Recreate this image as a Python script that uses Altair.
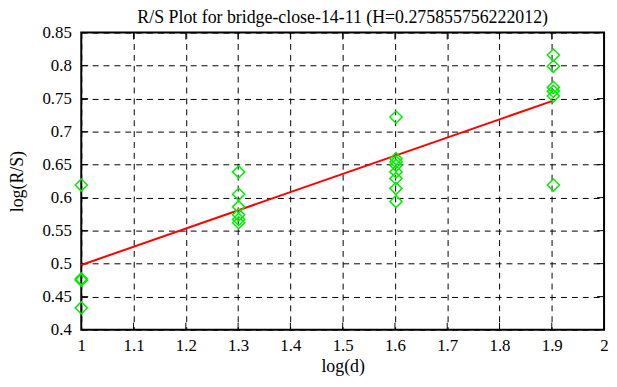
import altair as alt
import pandas as pd

# R/S analysis data (log(d) groups and log(R/S) values)
x_groups = [1.0, 1.30103, 1.60206, 1.90309]
y_at_1 = [0.619, 0.477, 0.475, 0.433]
y_at_2 = [0.639, 0.605, 0.586, 0.574, 0.567, 0.562]
y_at_3 = [0.722, 0.659, 0.654, 0.649, 0.639, 0.629, 0.614, 0.594]
y_at_4 = [0.816, 0.799, 0.767, 0.761, 0.754, 0.619]

fit_x = [1.0, 1.90309]
fit_y = [0.498, 0.747]

x_ticks = [1.0, 1.1, 1.2, 1.3, 1.4, 1.5, 1.6, 1.7, 1.8, 1.9, 2.0]
y_ticks = [0.4, 0.45, 0.5, 0.55, 0.6, 0.65, 0.7, 0.75, 0.8, 0.85]

title_text = "R/S Plot for bridge-close-14-11 (H=0.275855756222012)"

rows = []
for gx, ys in zip(x_groups, [y_at_1, y_at_2, y_at_3, y_at_4]):
    for v in ys:
        rows.append({"x": gx, "y": v})
pts = pd.DataFrame(rows)
fit = pd.DataFrame({"x": fit_x, "y": fit_y})
xt = pd.DataFrame({"x": x_ticks[1:-1]})
yt = pd.DataFrame({"y": y_ticks[1:-1]})

W, H = 528, 300
FONT = "Liberation Serif"

xscale = alt.Scale(domain=[1, 2], nice=False, zero=False)
yscale = alt.Scale(domain=[0.4, 0.85], nice=False, zero=False)

xaxis = alt.Axis(
    values=x_ticks, format=".1~f", title="log(d)", grid=True,
    gridColor="black", gridOpacity=1, gridDash=[6, 5], gridWidth=1,
    ticks=False, domain=False, labelPadding=8, labelFontSize=17,
    labelFont=FONT, labelColor="black", titleFont=FONT, titleFontSize=18,
    titleFontWeight="normal", titleColor="black", titleY=37, titleX=W / 2,
    titleBaseline="middle", labelFlush=False, labelOverlap=False,
)
yaxis = alt.Axis(
    values=y_ticks, format=".2~f", title="log(R/S)", grid=True,
    gridColor="black", gridOpacity=1, gridDash=[6, 5], gridWidth=1,
    ticks=False, domain=False, labelPadding=10, labelFontSize=17,
    labelFont=FONT, labelColor="black", titleFont=FONT, titleFontSize=18,
    titleFontWeight="normal", titleColor="black", titleX=-64, titleY=H / 2,
    titleAngle=270, titleAlign="center", titleBaseline="middle",
    labelFlush=False, labelOverlap=False,
)

points = alt.Chart(pts).mark_point(
    shape="diamond", filled=False, color="#00ee00", size=150, strokeWidth=1.5, opacity=1
).encode(
    x=alt.X("x:Q", scale=xscale, axis=xaxis),
    y=alt.Y("y:Q", scale=yscale, axis=yaxis),
)

line = alt.Chart(fit).mark_line(color="#ff0000", strokeWidth=2).encode(
    x=alt.X("x:Q", scale=xscale, axis=xaxis),
    y=alt.Y("y:Q", scale=yscale, axis=yaxis),
)

tick_len = 7
xt_bottom = alt.Chart(xt).mark_rule(color="black", strokeWidth=1).encode(
    x=alt.X("x:Q", scale=xscale, axis=xaxis), y=alt.value(H), y2=alt.value(H - tick_len)
)
xt_top = alt.Chart(xt).mark_rule(color="black", strokeWidth=1).encode(
    x=alt.X("x:Q", scale=xscale, axis=xaxis), y=alt.value(0), y2=alt.value(tick_len)
)
yt_left = alt.Chart(yt).mark_rule(color="black", strokeWidth=1).encode(
    y=alt.Y("y:Q", scale=yscale, axis=yaxis), x=alt.value(0), x2=alt.value(tick_len)
)
yt_right = alt.Chart(yt).mark_rule(color="black", strokeWidth=1).encode(
    y=alt.Y("y:Q", scale=yscale, axis=yaxis), x=alt.value(W - tick_len), x2=alt.value(W)
)

chart = alt.layer(xt_bottom, xt_top, yt_left, yt_right, line, points).properties(
    width=W,
    height=H,
    title=alt.TitleParams(
        text=title_text, font=FONT, fontSize=18, fontWeight="normal",
        color="black", anchor="middle", offset=-3,
    ),
    autosize=alt.AutoSizeParams(type="none"),
    padding={"left": 74, "top": 23, "right": 5, "bottom": 48},
    background="white",
).configure_view(stroke="black", strokeWidth=2).configure_axis(
    labelFont=FONT, titleFont=FONT
).configure_title(font=FONT)

chart.save("out.html", embed_options={"renderer": "svg", "actions": False})
